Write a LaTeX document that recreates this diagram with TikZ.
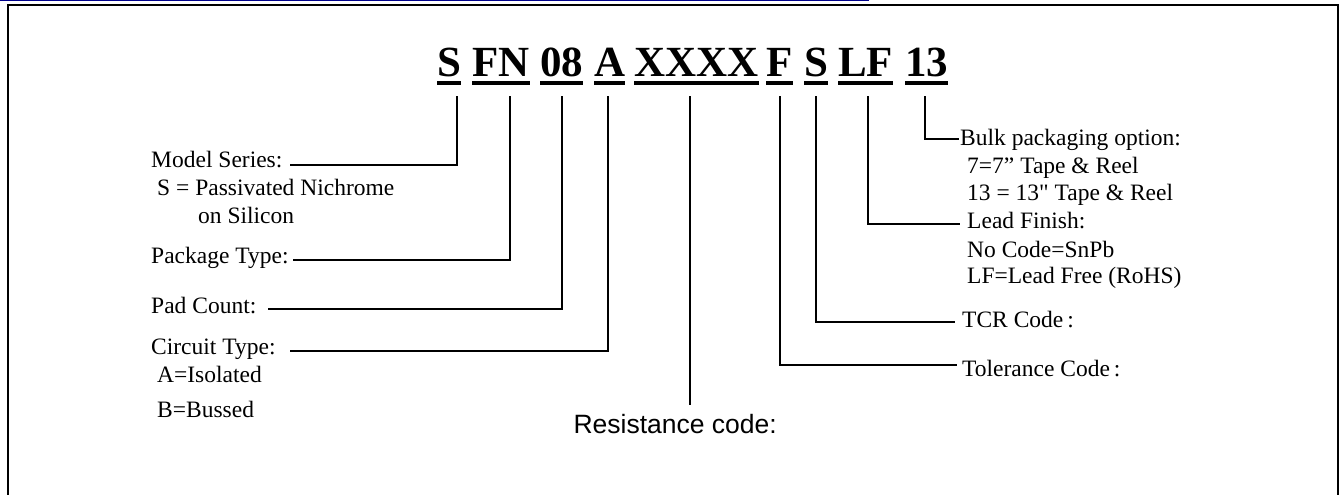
\documentclass[tikz,border=0pt]{standalone}
\usepackage{fontspec}
\setmainfont{Liberation Serif}
\newfontfamily\rawserif{Liberation Serif}[Ligatures=TeXOff]
\newfontfamily\arialf{Liberation Sans}
\definecolor{navyline}{RGB}{0,0,140}
\begin{document}
\begin{tikzpicture}[x=1pt,y=-1pt,
  conn/.style={line width=2pt},
  tok/.style={anchor=base west, inner sep=0pt, font=\fontsize{43}{50}\selectfont\bfseries},
  lab/.style={anchor=base west, inner sep=0pt, font=\fontsize{23.5}{28}\selectfont},
  uline/.style={line width=4.5pt}]
\useasboundingbox (0,0) rectangle (1341,495);
% top rule and frame
\draw[navyline, line width=1.5pt] (0,0.75) -- (869,0.75);
\draw[line width=2.5pt] (8,497) -- (8,5) -- (1338,5) -- (1338,497);
% title tokens
\foreach \n/\x/\t in {s1/437/S, fn/472/FN, pc/540/08, ct/594/A, rc/634/XXXX, tc/766/F, tcr/804/S, lf/838/LF, bp/905/13}
  {\node[tok] (\n) at (\x,77) {\t};
   \draw[uline] ([yshift=-6pt]\n.base west) -- ([yshift=-6pt]\n.base east);}
% tick tops
\coordinate (ts1) at (457,96);
\coordinate (tfn) at (510,96);
\coordinate (tpc) at (562,96);
\coordinate (tct) at (608,96);
\coordinate (trc) at (690,96);
\coordinate (ttc) at (780,96);
\coordinate (ttcr) at (816,96);
\coordinate (tlf) at (868,96);
\coordinate (tbp) at (925,96);
% left labels
\node[lab] (ms) at (151,167) {Model Series:};
\node[lab] (ms1) at (157,195) {S = Passivated Nichrome};
\node[lab] (ms2) at (198,223) {on Silicon};
\node[lab] (pt) at (151,263) {Package Type:};
\node[lab] (pcl) at (151,313) {Pad Count:};
\node[lab] (ctl) at (151,354) {Circuit Type:};
\node[lab] (ct1) at (157,382) {A=Isolated};
\node[lab] (ct2) at (157,417) {B=Bussed};
% right labels
\node[lab] (bpl) at (960,145) {Bulk packaging option:};
\node[lab] (bp1) at (967,173) {7=7'' Tape \& Reel};
\node[lab] (bp2) at (967,200) {13 = 13{\rawserif"} Tape \& Reel};
\node[lab] (lfl) at (967,228) {Lead Finish:};
\node[lab] (lf1) at (967,257) {No Code=SnPb};
\node[lab] (lf2) at (967,283) {LF=Lead Free (RoHS)};
\node[lab] (tcrl) at (962,327) {TCR Code\,:};
\node[lab] (tcl) at (962,376) {Tolerance Code\,:};
\node[anchor=base east, inner sep=0pt, font=\arialf\fontsize{26.5}{31}\selectfont] (rcl) at (777,433) {Resistance code:};
% line ends
\coordinate (es1) at (290,165);
\coordinate (efn) at (293,260);
\coordinate (epc) at (268,309);
\coordinate (ect) at (290,351);
\coordinate (erc) at (690,405);
\coordinate (etc) at (957,365);
\coordinate (etcr) at (955,322);
\coordinate (elf) at (960,224);
\coordinate (ebp) at (959,139);
% connectors
\draw[conn] (ts1) |- (es1);
\draw[conn] (tfn) |- (efn);
\draw[conn] (tpc) |- (epc);
\draw[conn] (tct) |- (ect);
\draw[conn] (trc) -- (erc);
\draw[conn] (ttc) |- (etc);
\draw[conn] (ttcr) |- (etcr);
\draw[conn] (tlf) |- (elf);
\draw[conn] (tbp) |- (ebp);
\end{tikzpicture}
\end{document}
